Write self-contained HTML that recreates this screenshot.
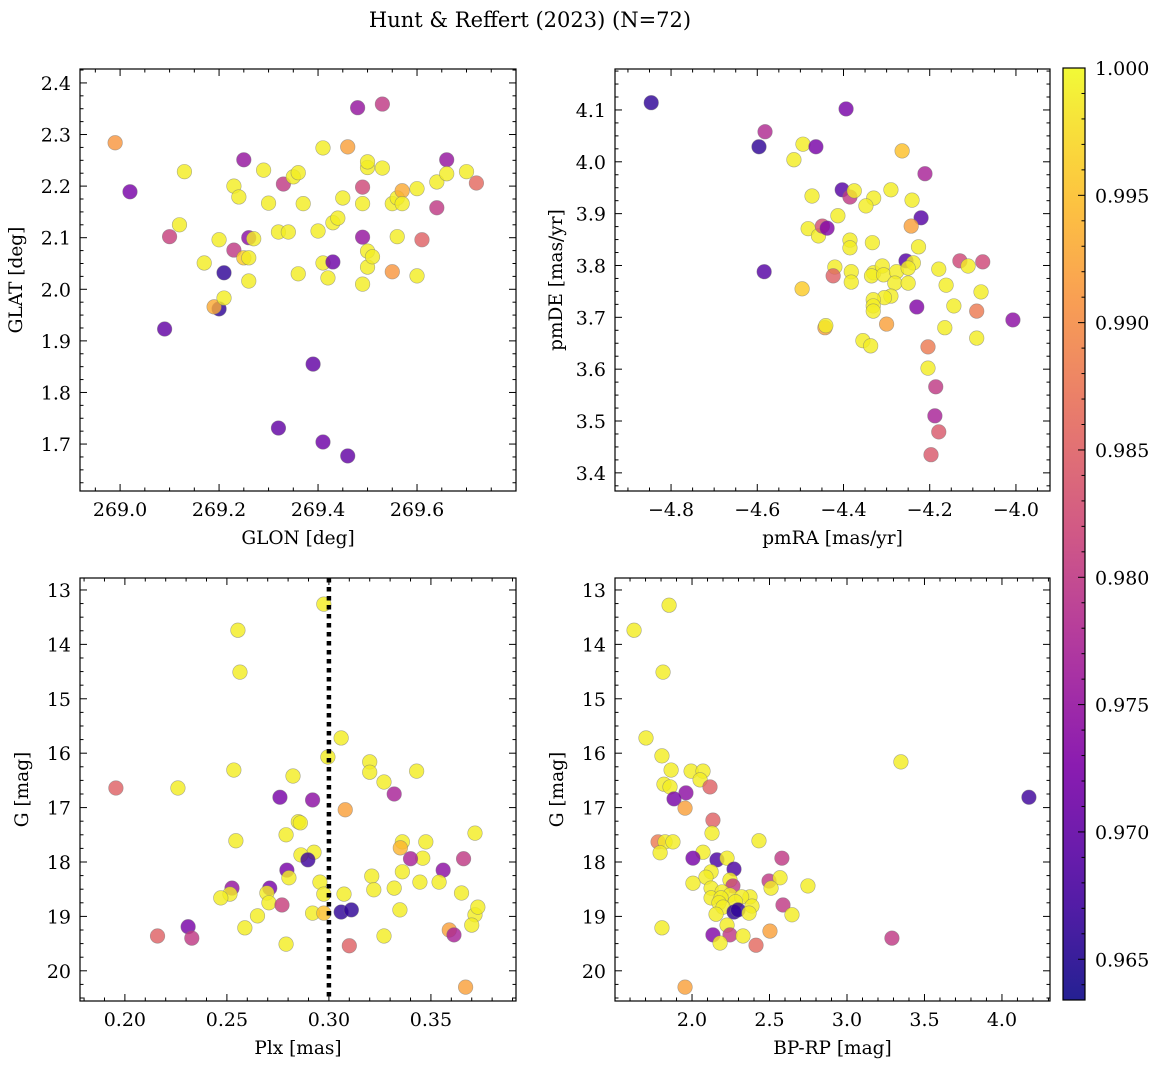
<!DOCTYPE html>
<html><head><meta charset="utf-8">
<style>
body{margin:0;background:#fff;}
svg text{font-family:"DejaVu Serif","Liberation Serif",serif;fill:#000;}
</style></head>
<body>
<svg id="fig" width="1161" height="1068" viewBox="0 0 1161 1068" xmlns="http://www.w3.org/2000/svg">
<text x="530" y="27" font-size="21" text-anchor="middle">Hunt &amp; Reffert (2023) (N=72)</text>
</svg>
<script>
// ---- data ----
const p1Lon=[268.99,269.02,269.10,269.09,269.13,269.12,269.17,269.20,269.21,269.20,269.19,269.21,269.23,269.23,269.24,269.25,269.25,269.26,269.26,269.27,269.26,269.29,269.30,269.32,269.33,269.34,269.35,269.36,269.37,269.36,269.32,269.39,269.40,269.41,269.41,269.41,269.42,269.43,269.43,269.44,269.45,269.46,269.46,269.48,269.49,269.49,269.49,269.49,269.50,269.50,269.50,269.50,269.51,269.53,269.53,269.55,269.55,269.56,269.56,269.57,269.57,269.60,269.60,269.61,269.64,269.64,269.66,269.66,269.70,269.72];
const p1Lat=[2.284,2.189,2.102,1.923,2.228,2.125,2.051,2.096,2.032,1.962,1.966,1.983,2.076,2.200,2.179,2.251,2.061,2.100,2.061,2.098,2.016,2.231,2.167,2.111,2.204,2.111,2.218,2.226,2.166,2.030,1.731,1.855,2.113,2.274,2.051,1.704,2.022,2.053,2.129,2.138,2.177,2.276,1.677,2.352,2.010,2.101,2.166,2.198,2.074,2.236,2.247,2.043,2.063,2.359,2.235,2.034,2.166,2.102,2.177,2.191,2.166,2.026,2.195,2.096,2.158,2.208,2.251,2.224,2.228,2.206];
const p1C=[0.991,0.972,0.981,0.970,0.999,0.999,0.999,0.999,0.966,0.966,0.993,0.999,0.980,0.999,0.999,0.975,0.996,0.974,0.999,0.999,0.999,0.999,0.999,0.999,0.980,0.999,0.999,0.999,0.999,0.999,0.970,0.970,0.999,0.999,0.999,0.971,0.999,0.971,0.999,0.999,0.999,0.992,0.970,0.975,0.999,0.975,0.999,0.982,0.999,0.999,0.999,0.999,0.999,0.980,0.999,0.991,0.999,0.999,0.999,0.993,0.999,0.999,0.999,0.985,0.980,0.999,0.975,0.999,0.999,0.986];

const p2RA=[-4.846,-4.582,-4.596,-4.494,-4.464,-4.515,-4.394,-4.473,-4.403,-4.385,-4.375,-4.330,-4.348,-4.290,-4.264,-4.211,-4.241,-4.220,-4.413,-4.482,-4.458,-4.449,-4.438,-4.243,-4.385,-4.385,-4.333,-4.226,-4.255,-4.238,-4.130,-4.077,-4.111,-4.420,-4.424,-4.382,-4.330,-4.335,-4.310,-4.307,-4.277,-4.250,-4.179,-4.382,-4.584,-4.281,-4.250,-4.162,-4.496,-4.081,-4.290,-4.305,-4.331,-4.331,-4.331,-4.230,-4.144,-4.091,-4.007,-4.300,-4.443,-4.441,-4.165,-4.091,-4.355,-4.337,-4.204,-4.204,-4.186,-4.188,-4.179,-4.197];
const p2DE=[4.114,4.058,4.029,4.034,4.029,4.004,4.102,3.934,3.946,3.932,3.944,3.930,3.915,3.946,4.021,3.977,3.926,3.892,3.896,3.871,3.857,3.876,3.872,3.876,3.849,3.834,3.844,3.836,3.809,3.805,3.809,3.807,3.799,3.797,3.780,3.788,3.786,3.780,3.799,3.782,3.788,3.795,3.793,3.768,3.788,3.766,3.766,3.762,3.755,3.749,3.741,3.738,3.734,3.722,3.712,3.720,3.722,3.712,3.695,3.687,3.680,3.684,3.680,3.660,3.655,3.645,3.643,3.602,3.566,3.510,3.479,3.435];
const p2C=[0.966,0.978,0.966,0.999,0.972,0.999,0.972,0.999,0.969,0.980,0.999,0.999,0.999,0.999,0.995,0.977,0.999,0.969,0.999,0.999,0.999,0.983,0.973,0.992,0.999,0.999,0.999,0.999,0.969,0.999,0.982,0.982,0.999,0.999,0.985,0.999,0.999,0.999,0.999,0.999,0.999,0.999,0.999,0.999,0.969,0.999,0.999,0.999,0.996,0.999,0.999,0.999,0.999,0.999,0.999,0.973,0.999,0.988,0.974,0.992,0.992,0.999,0.999,0.999,0.999,0.999,0.988,0.999,0.980,0.977,0.984,0.984];

const p3Plx=[0.2975,0.2554,0.2564,0.306,0.320,0.320,0.2534,0.2995,0.1956,0.226,0.2824,0.327,0.343,0.276,0.292,0.332,0.308,0.2544,0.285,0.286,0.279,0.3716,0.336,0.3475,0.335,0.2927,0.2863,0.346,0.340,0.366,0.2897,0.2794,0.336,0.356,0.321,0.2804,0.2956,0.3446,0.354,0.2525,0.271,0.322,0.332,0.365,0.2515,0.2696,0.2975,0.3074,0.247,0.2706,0.277,0.3348,0.306,0.311,0.292,0.265,0.2975,0.3716,0.373,0.370,0.231,0.2588,0.359,0.3613,0.216,0.2328,0.327,0.279,0.310,0.367];
const p3G=[13.26,13.74,14.51,15.72,16.16,16.35,16.31,16.07,16.64,16.64,16.42,16.53,16.33,16.81,16.86,16.75,17.04,17.61,17.26,17.28,17.50,17.47,17.63,17.63,17.74,17.82,17.87,17.93,17.94,17.94,17.96,18.15,18.18,18.15,18.26,18.29,18.37,18.37,18.37,18.48,18.48,18.51,18.48,18.57,18.59,18.57,18.59,18.59,18.66,18.75,18.79,18.88,18.92,18.88,18.94,18.99,18.94,18.97,18.83,19.16,19.19,19.21,19.25,19.34,19.36,19.40,19.36,19.51,19.54,20.30];
const p3C=[0.999,0.999,0.999,0.999,0.999,0.999,0.999,0.999,0.985,0.999,0.999,0.999,0.999,0.972,0.974,0.977,0.992,0.999,0.999,0.999,0.999,0.999,0.999,0.999,0.994,0.999,0.999,0.999,0.977,0.980,0.967,0.972,0.999,0.974,0.999,0.999,0.999,0.999,0.999,0.975,0.972,0.999,0.999,0.999,0.999,0.999,0.999,0.999,0.999,0.999,0.981,0.999,0.966,0.966,0.999,0.999,0.995,0.999,0.999,0.999,0.972,0.999,0.992,0.977,0.985,0.980,0.999,0.999,0.985,0.992];

const p4BR=[1.626,1.852,1.813,1.703,1.806,1.994,2.071,2.052,1.865,1.819,1.858,2.116,3.348,1.961,1.884,4.174,1.955,2.135,2.129,1.781,1.826,1.877,2.432,2.071,1.794,2.006,2.161,2.226,2.58,2.271,2.123,2.090,2.245,2.497,2.568,2.006,2.123,2.264,2.51,2.748,2.194,2.245,2.123,2.187,2.374,2.32,2.28,2.387,2.174,2.587,2.2,2.271,2.297,2.155,2.368,2.645,2.226,2.503,1.806,2.135,2.245,2.329,3.29,2.181,2.413,1.955];
const p4G=[13.74,13.28,14.51,15.72,16.05,16.33,16.33,16.49,16.31,16.57,16.62,16.62,16.16,16.73,16.84,16.81,17.01,17.23,17.47,17.63,17.63,17.63,17.61,17.82,17.83,17.93,17.96,17.93,17.93,18.13,18.18,18.28,18.33,18.35,18.29,18.39,18.48,18.44,18.48,18.44,18.55,18.61,18.66,18.66,18.64,18.64,18.73,18.81,18.75,18.79,18.83,18.92,18.88,18.96,18.94,18.97,19.16,19.27,19.21,19.34,19.34,19.36,19.40,19.49,19.53,20.30];
const p4C=[0.999,0.999,0.999,0.999,0.999,0.999,0.999,0.999,0.999,0.999,0.999,0.985,0.999,0.974,0.972,0.967,0.992,0.985,0.999,0.988,0.999,0.999,0.999,0.999,0.999,0.972,0.968,0.999,0.980,0.968,0.999,0.999,0.999,0.980,0.999,0.999,0.999,0.980,0.999,0.999,0.999,0.999,0.999,0.999,0.999,0.999,0.999,0.999,0.999,0.980,0.999,0.966,0.966,0.999,0.999,0.999,0.999,0.992,0.999,0.973,0.980,0.999,0.980,0.999,0.986,0.992];

const cbTicks=[0.965,0.970,0.975,0.980,0.985,0.990,0.995,1.000];
const CMIN=0.9634, CMAX=1.0;

// ---- helpers ----
const NS="http://www.w3.org/2000/svg";
const svg=document.getElementById('fig');
function mk(tag,attrs,parent){const e=document.createElementNS(NS,tag);for(const k in attrs)e.setAttribute(k,attrs[k]);(parent||svg).appendChild(e);return e;}
const stops=[[0,[13,8,135]],[0.125,[75,3,161]],[0.25,[125,3,168]],[0.375,[168,34,150]],[0.5,[203,70,121]],[0.625,[229,107,93]],[0.75,[248,148,65]],[0.875,[253,195,40]],[1,[240,249,33]]];
function plasma(t){t=Math.max(0,Math.min(1,t));for(let i=1;i<stops.length;i++){if(t<=stops[i][0]){const a=stops[i-1],b=stops[i];const f=(t-a[0])/(b[0]-a[0]);const c=a[1].map((v,j)=>Math.round(v+(b[1][j]-v)*f));return `rgb(${c.join(',')})`;}}return 'rgb(240,249,33)';}

function panel(cfg){
  const {x0,x1,y0,y1,xmin,xmax,ymin,ymax,name}=cfg;
  const sx=v=>x0+(v-xmin)/(xmax-xmin)*(x1-x0);
  const sy=v=>y1-(v-ymin)/(ymax-ymin)*(y1-y0);
  const g=mk('g',{});
  
  
  for(let i=0;i<cfg.xs.length;i++){
    const c=mk('circle',{cx:sx(cfg.xs[i]),cy:sy(cfg.ys[i]),r:7.3,fill:plasma((cfg.cs[i]-CMIN)/(CMAX-CMIN)),'fill-opacity':0.82,stroke:'#777','stroke-opacity':0.6,'stroke-width':0.6},g);
    
    
  }
  if(cfg.vline!==undefined){
    const l=mk('line',{x1:sx(cfg.vline),x2:sx(cfg.vline),y1:y0,y2:y1,stroke:'#000','stroke-width':4.5,'stroke-dasharray':'4.5,4.5'},g);
    
    
  }
  const fr=mk('rect',{x:x0,y:y0,width:x1-x0,height:y1-y0,fill:'none',stroke:'#000','stroke-width':1.2},g);
  
  
  const minorX=cfg.xmaj/cfg.xminN, minorY=cfg.ymaj/cfg.yminN;
  for(let v=Math.ceil(xmin/minorX)*minorX;v<=xmax+1e-9;v+=minorX){
    const isMaj=Math.abs(v/cfg.xmaj-Math.round(v/cfg.xmaj))<1e-6;const L=isMaj?7:3.5;const X=sx(v);
    mk('line',{x1:X,x2:X,y1:y1,y2:y1-L,stroke:'#000','stroke-width':1},g);
    mk('line',{x1:X,x2:X,y1:y0,y2:y0+L,stroke:'#000','stroke-width':1},g);
  }
  for(let v=Math.ceil(ymin/minorY)*minorY;v<=ymax+1e-9;v+=minorY){
    const isMaj=Math.abs(v/cfg.ymaj-Math.round(v/cfg.ymaj))<1e-6;const L=isMaj?7:3.5;const Y=sy(v);
    mk('line',{x1:x0,x2:x0+L,y1:Y,y2:Y,stroke:'#000','stroke-width':1},g);
    mk('line',{x1:x1,x2:x1-L,y1:Y,y2:Y,stroke:'#000','stroke-width':1},g);
  }
  cfg.xt.forEach(v=>{const t=mk('text',{x:sx(v),y:y1+25,'font-size':19,'text-anchor':'middle'},g);t.textContent=cfg.xf(v);
    
    });
  cfg.yt.forEach(v=>{const t=mk('text',{x:x0-9,y:sy(v)+7,'font-size':19,'text-anchor':'end'},g);t.textContent=cfg.yf(v);
    
    });
  const xl=mk('text',{x:(x0+x1)/2,y:y1+53,'font-size':18.5,'text-anchor':'middle'},g);xl.textContent=cfg.xlabel;
  
  
  const yx=x0-cfg.ylOff, yy=(y0+y1)/2;
  const yl=mk('text',{x:yx,y:yy,'font-size':18.5,'text-anchor':'middle',transform:`rotate(-90 ${yx} ${yy})`},g);yl.textContent=cfg.ylabel;
  
  
}
const fmtMinus=s=>s.replace('-','\u2212');
panel({name:'glon-glat-panel',x0:80,x1:516,y0:69,y1:491,xmin:268.919,xmax:269.800,ymin:1.609,ymax:2.427,
  xs:p1Lon,ys:p1Lat,cs:p1C,xmaj:0.2,xminN:4,ymaj:0.1,yminN:4,
  xt:[269.0,269.2,269.4,269.6],yt:[1.7,1.8,1.9,2.0,2.1,2.2,2.3,2.4],xf:v=>v.toFixed(1),yf:v=>v.toFixed(1),
  xlabel:'GLON [deg]',ylabel:'GLAT [deg]',ylOff:58});
panel({name:'proper-motion-panel',x0:615,x1:1050,y0:69,y1:491,xmin:-4.930,xmax:-3.921,ymin:3.365,ymax:4.179,
  xs:p2RA,ys:p2DE,cs:p2C,xmaj:0.2,xminN:4,ymaj:0.1,yminN:4,
  xt:[-4.8,-4.6,-4.4,-4.2,-4.0],yt:[3.4,3.5,3.6,3.7,3.8,3.9,4.0,4.1],xf:v=>fmtMinus(v.toFixed(1)),yf:v=>v.toFixed(1),
  xlabel:'pmRA [mas/yr]',ylabel:'pmDE [mas/yr]',ylOff:53});
panel({name:'parallax-magnitude-panel',x0:80,x1:516,y0:578,y1:1001,xmin:0.178,xmax:0.3917,ymin:-20.555,ymax:-12.78,
  xs:p3Plx,ys:p3G.map(v=>-v),cs:p3C,xmaj:0.05,xminN:5,ymaj:1,yminN:4,vline:0.30,
  xt:[0.20,0.25,0.30,0.35],yt:[-20,-19,-18,-17,-16,-15,-14,-13],xf:v=>v.toFixed(2),yf:v=>String(-v),
  xlabel:'Plx [mas]',ylabel:'G [mag]',ylOff:52});
panel({name:'color-magnitude-panel',x0:615,x1:1050,y0:578,y1:1001,xmin:1.503,xmax:4.31,ymin:-20.555,ymax:-12.78,
  xs:p4BR,ys:p4G.map(v=>-v),cs:p4C,xmaj:0.5,xminN:5,ymaj:1,yminN:4,
  xt:[2.0,2.5,3.0,3.5,4.0],yt:[-20,-19,-18,-17,-16,-15,-14,-13],xf:v=>v.toFixed(1),yf:v=>String(-v),
  xlabel:'BP-RP [mag]',ylabel:'G [mag]',ylOff:52});

(function(){
  const cx0=1063,cx1=1085,cy0=68,cy1=1000;
  const defs=mk('defs',{});
  const lg=mk('linearGradient',{id:'cbg',x1:0,y1:1,x2:0,y2:0},defs);
  for(let i=0;i<=20;i++){mk('stop',{offset:i/20,'stop-color':plasma(i/20)},lg);}
  const g=mk('g',{});
  
  
  mk('rect',{x:cx0,y:cy0,width:cx1-cx0,height:cy1-cy0,fill:'url(#cbg)','fill-opacity':0.9,stroke:'#000','stroke-width':1.2},g);
  const sy=v=>cy1-(v-CMIN)/(CMAX-CMIN)*(cy1-cy0);
  for(let v=0.964;v<=1.00001;v+=0.001){const Y=sy(v);const maj=Math.abs(v*200-Math.round(v*200))<1e-6;
    mk('line',{x1:cx1,x2:cx1-(maj?7:3.5),y1:Y,y2:Y,stroke:'#000','stroke-width':1},g);}
  cbTicks.forEach(v=>{const t=mk('text',{x:cx1+10,y:sy(v)+7,'font-size':19},g);t.textContent=v.toFixed(3);
    
    });
})();
</script>
</body></html>
